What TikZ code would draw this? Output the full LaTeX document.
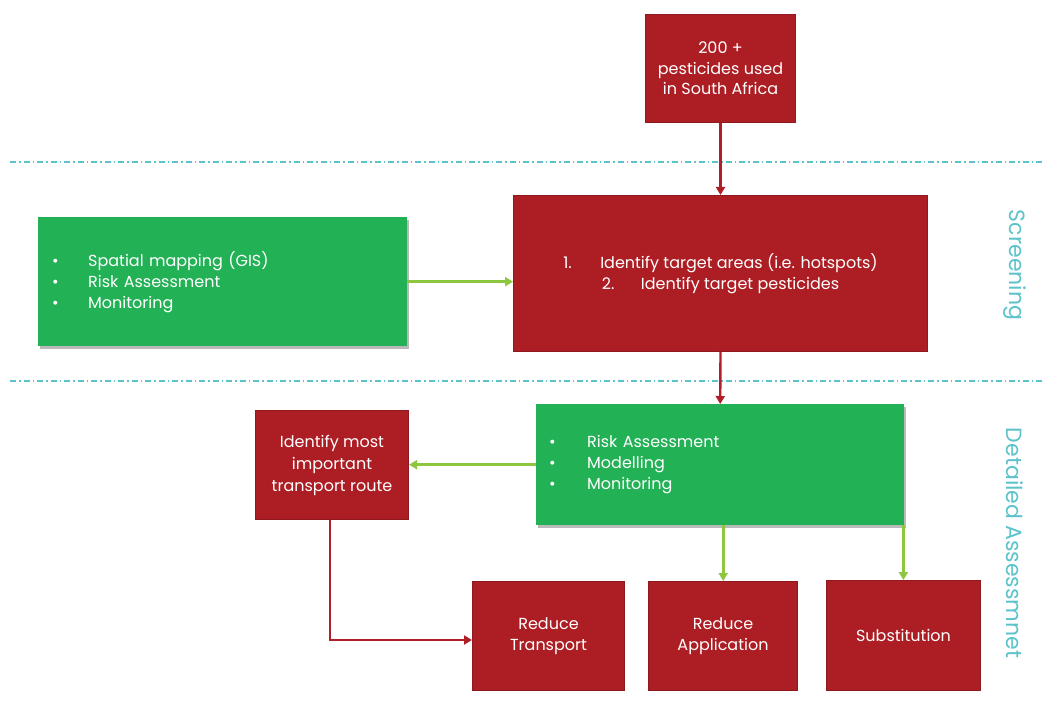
\documentclass[tikz,border=0pt]{standalone}
\usepackage{fontspec}
\setmainfont{Poppins}
\usetikzlibrary{arrows.meta,shadows}
\definecolor{boxred}{HTML}{AD1E24}
\definecolor{edgered}{HTML}{8E1A1F}
\definecolor{boxgreen}{HTML}{23B155}
\definecolor{arrgreen}{HTML}{8DC63F}
\definecolor{arrred}{HTML}{B01F28}
\definecolor{teal}{HTML}{5CC3CB}
\begin{document}
\begin{tikzpicture}[x=1pt,y=-1pt,
  redbox/.style={draw=edgered,line width=1pt,fill=boxred,text=white,align=center,
    anchor=north west,inner sep=0pt,font=\fontsize{16}{20.5}\selectfont},
  greenbox/.style={fill=boxgreen,text=white,anchor=north west,inner sep=0pt,
    drop shadow={shadow xshift=2pt,shadow yshift=-3pt,fill=black!45,opacity=0.6},
    font=\fontsize{16}{21}\selectfont},
  garrow/.style={draw=arrgreen,line width=2.8pt,-{Triangle[length=8pt,width=9pt]}},
  rarrow/.style={draw=arrred,line width=2.4pt,-{Triangle[length=8pt,width=9pt]}},
  sep/.style={draw=teal,line width=1.3pt,dash pattern=on 6pt off 3pt on 1.5pt off 3pt},
  side/.style={text=teal,rotate=-90,font=\fontsize{22}{24}\selectfont}]
\useasboundingbox (0,0) rectangle (1043,711);
\fill[white] (0,0) rectangle (1043,711);
\newcommand{\bl}[1]{\makebox[36pt][l]{\textbullet}#1}
\newcommand{\blb}[1]{\makebox[38pt][l]{\textbullet}#1}
% separators
\coordinate (s1a) at (10,162); \coordinate (s1b) at (1043,162);
\coordinate (s2a) at (10,381); \coordinate (s2b) at (1043,381);
\draw[sep] (s1a) -- (s1b);
\draw[sep] (s2a) -- (s2b);
% nodes
\node[redbox,minimum width=150,minimum height=108] (top) at (645,14)
  {200 +\\pesticides used\\in South Africa};
\node[redbox,minimum width=414,minimum height=156] (ident) at (513,195)
  {\makebox[37pt][l]{1.}Identify target areas (i.e. hotspots)\\
   \makebox[39pt][l]{2.}Identify target pesticides};
\node[greenbox,minimum width=369,minimum height=129,text width=341,inner xsep=14pt,align=left] (gis) at (38,217)
  {\bl{Spatial mapping (GIS)}\\\bl{Risk Assessment}\\\bl{Monitoring}};
\node[greenbox,minimum width=368,minimum height=121,text width=342,inner xsep=13pt,align=left] (risk) at (536,404)
  {\blb{Risk Assessment}\\\blb{Modelling}\\\blb{Monitoring}};
\node[redbox,minimum width=153,minimum height=109,font=\fontsize{16}{22}\selectfont] (route) at (255,410)
  {Identify most\\important\\transport route};
\node[redbox,minimum width=152,minimum height=109] (rt) at (472,581)
  {Reduce\\Transport};
\node[redbox,minimum width=149,minimum height=109] (ra) at (648,581)
  {Reduce\\Application};
\node[redbox,minimum width=154,minimum height=110] (sub) at (826,580)
  {Substitution};
\node[side] (scr) at (1015,265) {Screening};
\node[side] (det) at (1015,543) {Detailed Assessmnet};
% connectors
\draw[rarrow] (top.south) -- (ident.north);
\draw[rarrow] (ident.south) -- (risk.north);
\draw[garrow] (gis.east) -- (gis.east -| ident.west);
\draw[garrow] (risk.west) -- (risk.west -| route.east);
\draw[garrow] (risk.south) ++(3,0) coordinate (r1) (r1) -- (r1 |- ra.north);
\draw[garrow] (risk.south east) ++(-1,0) coordinate (r2) (r2) -- (r2 |- sub.north);
\coordinate (bend) at (330,640);
\draw[rarrow] (route.south -| bend) -- (bend) -- (rt.west |- bend);
\end{tikzpicture}
\end{document}
